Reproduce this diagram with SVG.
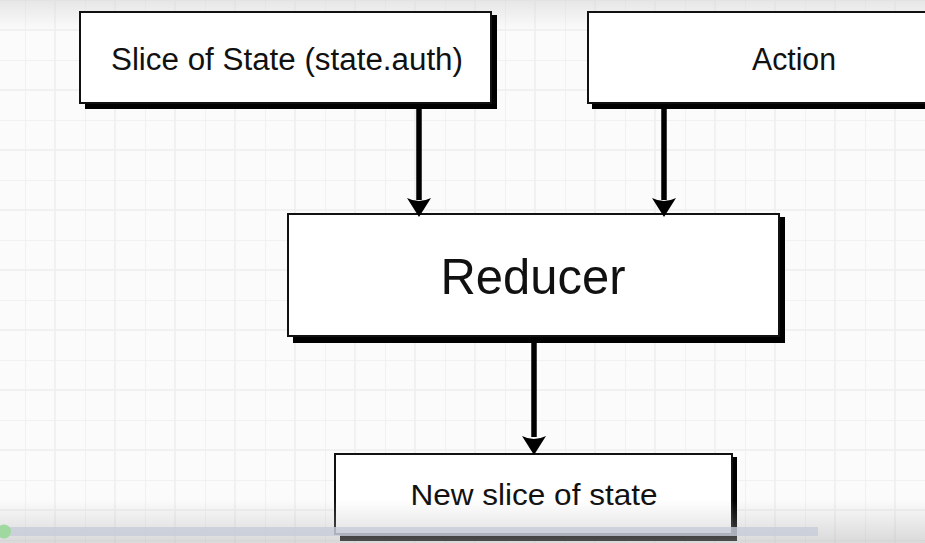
<svg xmlns="http://www.w3.org/2000/svg" width="925" height="543" viewBox="0 0 925 543">
<defs>
<pattern id="grid" x="25" y="0" width="60" height="60" patternUnits="userSpaceOnUse">
<path d="M0 0V60M30 0V60M0 0H60M0 30H60" fill="none" stroke="#eeeef0" stroke-width="1.5"/>
</pattern>
<linearGradient id="topfade" x1="0" y1="0" x2="0" y2="1">
<stop offset="0" stop-color="#d8d8d8" stop-opacity="0.6"/>
<stop offset="1" stop-color="#d8d8d8" stop-opacity="0"/>
</linearGradient>
<linearGradient id="botfade" x1="0" y1="0" x2="0" y2="1">
<stop offset="0" stop-color="#b0b0b0" stop-opacity="0"/>
<stop offset="1" stop-color="#b0b0b0" stop-opacity="0.45"/>
</linearGradient>
<path id="head" d="M-12 -19 Q0 -13 12 -19 L0 0 Z" fill="#000"/>
<style>
.box{fill:#fff;stroke:#111;stroke-width:2}
.shadow{fill:#000}
.lbl{font-family:"Liberation Sans",Arial,sans-serif;fill:#111;text-anchor:middle}
.conn{stroke:#000;stroke-width:5.5;fill:none}
</style>
</defs>
<rect width="925" height="543" fill="#fbfbfc"/>
<rect width="925" height="543" fill="url(#grid)"/>
<rect width="925" height="30" fill="url(#topfade)"/>

<g id="slice-of-state">
<path class="shadow" d="M489 15H497V109H85V102H489Z"/>
<rect class="box" x="80" y="12" width="411" height="91"/>
<text class="lbl" x="287" y="70" font-size="31" textLength="352" lengthAdjust="spacingAndGlyphs">Slice of State (state.auth)</text>
</g>

<g id="action">
<path class="shadow" d="M592 102H930V109H592Z"/>
<rect class="box" x="588" y="12" width="345" height="91"/>
<text class="lbl" x="794" y="70" font-size="31" textLength="84" lengthAdjust="spacingAndGlyphs">Action</text>
</g>

<g id="reducer">
<path class="shadow" d="M778 217H785V343H293V336H778Z"/>
<rect class="box" x="288" y="214" width="491" height="122"/>
<text class="lbl" x="533" y="294" font-size="50" textLength="185" lengthAdjust="spacingAndGlyphs">Reducer</text>
</g>

<g id="new-slice">
<path class="shadow" d="M731 457H737V541H340V535H731Z"/>
<rect class="box" x="335" y="454" width="397" height="80"/>
<text class="lbl" x="534" y="505" font-size="29" textLength="247" lengthAdjust="spacingAndGlyphs">New slice of state</text>
</g>

<g id="connectors">
<line class="conn" x1="419" y1="108" x2="419" y2="200"/>
<use href="#head" x="419" y="217"/>
<line class="conn" x1="664" y1="108" x2="664" y2="200"/>
<use href="#head" x="664" y="217"/>
<line class="conn" x1="534" y1="343" x2="534" y2="437"/>
<use href="#head" x="534" y="455"/>
</g>

<rect y="500" width="925" height="43" fill="url(#botfade)"/>
<rect x="0" y="527" width="818" height="9" fill="#c5ccd8" fill-opacity="0.8"/>
<circle cx="4" cy="531.5" r="7" fill="#9fd99f"/>
</svg>
